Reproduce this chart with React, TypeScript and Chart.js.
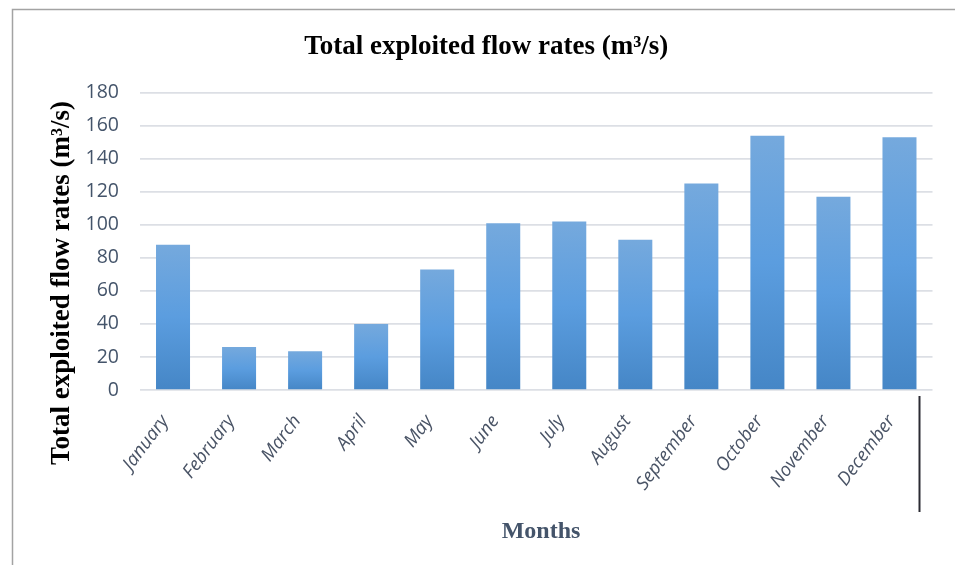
import React, { useEffect, useRef } from "react";
import { Chart, registerables } from "chart.js";

Chart.register(...registerables);

// Monthly totals of exploited flow (m³/s)
const months = [
  "January", "February", "March", "April", "May", "June",
  "July", "August", "September", "October", "November", "December",
];
const flowRates = [88, 26, 23.5, 40, 73, 101, 102, 91, 125, 154, 117, 153];
const yTicks = [0, 20, 40, 60, 80, 100, 120, 140, 160, 180];

const chartTitle = "Total exploited flow rates (m³/s)";
const yTitle = "Total exploited flow rates (m³/s)";
const xTitle = "Months";

const W = 955;
const H = 565;
const serifBold = (size: number) => `bold ${size}px 'Liberation Serif', serif`;

// Frame around the figure, axis titles, and the dark stroke right of the month labels
const decorPlugin = {
  id: "decor",
  afterDraw(chart: any) {
    const { ctx, chartArea } = chart;
    ctx.save();
    ctx.strokeStyle = "#a3a3a3";
    ctx.lineWidth = 1.5;
    ctx.beginPath();
    ctx.moveTo(12.5, H);
    ctx.lineTo(12.5, 9.5);
    ctx.lineTo(W, 9.5);
    ctx.stroke();

    const x = chartArea.right - 13;
    ctx.strokeStyle = "#2b2b33";
    ctx.lineWidth = 2;
    ctx.beginPath();
    ctx.moveTo(x, chartArea.bottom + 6);
    ctx.lineTo(x, chartArea.bottom + 122);
    ctx.stroke();

    // y-axis title
    ctx.fillStyle = "#000000";
    ctx.font = serifBold(27);
    ctx.textAlign = "center";
    ctx.textBaseline = "middle";
    ctx.translate(62, 283);
    ctx.rotate(-Math.PI / 2);
    ctx.fillText(yTitle, 0, 0);
    ctx.setTransform(1, 0, 0, 1, 0, 0);

    // x-axis title
    ctx.fillStyle = "#44546a";
    ctx.font = serifBold(24);
    ctx.fillText(xTitle, 541, 532);
    ctx.restore();
  },
};

export default function App() {
  const canvasRef = useRef<HTMLCanvasElement | null>(null);

  useEffect(() => {
    document.body.style.margin = "0";
    const canvas = canvasRef.current;
    if (!canvas) return;

    const barFill = (c: any) => {
      const chart = c.chart;
      const yScale = chart.scales && chart.scales.y;
      if (!chart.chartArea || !yScale || c.type !== "data") return "#5b9bd5";
      const top = yScale.getPixelForValue(c.raw);
      const bottom = yScale.getPixelForValue(0);
      const g = chart.ctx.createLinearGradient(0, top, 0, bottom);
      g.addColorStop(0, "#75a9dd");
      g.addColorStop(0.5, "#5b9ddf");
      g.addColorStop(1, "#4586c6");
      return g;
    };

    const chart = new Chart(canvas, {
      type: "bar",
      data: {
        labels: months,
        datasets: [
          {
            data: flowRates,
            backgroundColor: barFill,
            borderWidth: 0,
            categoryPercentage: 1,
            barPercentage: 0.515,
          },
        ],
      },
      options: {
        responsive: false,
        animation: false,
        devicePixelRatio: 1,
        layout: { padding: { left: 40, right: 22.5, top: 0, bottom: 18.6 } },
        plugins: {
          legend: { display: false },
          tooltip: { enabled: false },
          title: {
            display: true,
            text: chartTitle,
            color: "#000000",
            font: { family: "'Liberation Serif', serif", size: 27, weight: "bold", lineHeight: 1.2 },
            padding: { top: 30.8, bottom: 29.5 },
          },
        },
        scales: {
          x: {
            grid: { display: false },
            border: { display: false },
            ticks: {
              color: "#4a5466",
              font: { family: "'Open Sans', sans-serif", size: 18.5, style: "italic" },
              minRotation: 53,
              maxRotation: 53,
              autoSkip: false,
              padding: 13,
              labelOffset: -8,
            },
            afterFit(scale: any) {
              scale.height = 156.4;
            },
          },
          y: {
            min: 0,
            max: 180,
            afterBuildTicks(scale: any) {
              scale.ticks = yTicks.map((v) => ({ value: v }));
            },
            grid: { color: "#dcdfe5", lineWidth: 1.7, drawTicks: false },
            border: { display: false },
            ticks: {
              color: "#44546a",
              font: { family: "'Open Sans', sans-serif", size: 19.5 },
              padding: 21,
            },
            afterFit(scale: any) {
              scale.width = 100;
            },
          },
        },
      },
      plugins: [decorPlugin],
    });

    return () => chart.destroy();
  }, []);

  return (
    <div style={{ width: W, height: H, background: "#ffffff" }}>
      <canvas ref={canvasRef} width={W} height={H} style={{ display: "block" }} />
    </div>
  );
}
